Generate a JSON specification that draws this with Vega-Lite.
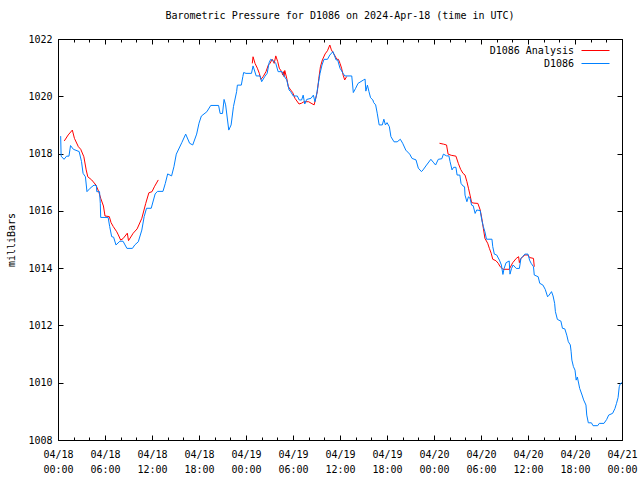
{
  "$schema": "https://vega.github.io/schema/vega-lite/v6.json",
  "autosize": "none",
  "width": 564,
  "height": 401,
  "padding": {"left": 58, "top": 39, "right": 18, "bottom": 40},
  "background": "white",
  "config": {
    "font": "DejaVu Sans Mono",
    "view": {"stroke": "black", "strokeWidth": 1},
    "axis": {"labelFont": "DejaVu Sans Mono", "labelFontSize": 10, "labelColor": "black", "titleFont": "DejaVu Sans Mono", "titleFontSize": 10, "titleFontWeight": "normal", "titleColor": "black", "tickColor": "black", "tickWidth": 1, "domain": false, "grid": false, "labelFlush": false, "labelOverlap": false}
  },
  "title": {"text": "Barometric Pressure for D1086 on 2024-Apr-18 (time in UTC)", "font": "DejaVu Sans Mono", "fontSize": 10, "fontWeight": "normal", "color": "black", "offset": 13},
  "datasets": {
    "ana": [
      {"s":"D1086 Analysis","g":1,"h":0.8,"p":1018.44},{"s":"D1086 Analysis","g":1,"h":1.3,"p":1018.65},{"s":"D1086 Analysis","g":1,"h":1.83,"p":1018.82},{"s":"D1086 Analysis","g":1,"h":2.1,"p":1018.53},{"s":"D1086 Analysis","g":1,"h":2.6,"p":1018.24},{"s":"D1086 Analysis","g":1,"h":2.9,"p":1018.15},{"s":"D1086 Analysis","g":1,"h":3.3,"p":1017.89},{"s":"D1086 Analysis","g":1,"h":3.6,"p":1017.43},{"s":"D1086 Analysis","g":1,"h":3.8,"p":1017.19},{"s":"D1086 Analysis","g":1,"h":4.3,"p":1017.08},{"s":"D1086 Analysis","g":1,"h":4.85,"p":1016.9},{"s":"D1086 Analysis","g":1,"h":5.2,"p":1016.67},{"s":"D1086 Analysis","g":1,"h":5.45,"p":1016.44},{"s":"D1086 Analysis","g":1,"h":5.8,"p":1016.17},{"s":"D1086 Analysis","g":1,"h":6.0,"p":1015.82},{"s":"D1086 Analysis","g":1,"h":6.55,"p":1015.8},{"s":"D1086 Analysis","g":1,"h":6.77,"p":1015.59},{"s":"D1086 Analysis","g":1,"h":7.06,"p":1015.45},{"s":"D1086 Analysis","g":1,"h":7.5,"p":1015.27},{"s":"D1086 Analysis","g":1,"h":7.7,"p":1015.16},{"s":"D1086 Analysis","g":1,"h":8.0,"p":1014.98},{"s":"D1086 Analysis","g":1,"h":8.3,"p":1015.03},{"s":"D1086 Analysis","g":1,"h":8.85,"p":1015.22},{"s":"D1086 Analysis","g":1,"h":9.0,"p":1014.96},{"s":"D1086 Analysis","g":1,"h":9.6,"p":1015.22},{"s":"D1086 Analysis","g":1,"h":10.1,"p":1015.37},{"s":"D1086 Analysis","g":1,"h":10.7,"p":1015.74},{"s":"D1086 Analysis","g":1,"h":11.2,"p":1016.26},{"s":"D1086 Analysis","g":1,"h":11.6,"p":1016.63},{"s":"D1086 Analysis","g":1,"h":12.0,"p":1016.67},{"s":"D1086 Analysis","g":1,"h":12.3,"p":1016.84},{"s":"D1086 Analysis","g":1,"h":12.8,"p":1017.08},
      {"s":"D1086 Analysis","g":2,"h":24.8,"p":1021.15},{"s":"D1086 Analysis","g":2,"h":24.9,"p":1021.38},{"s":"D1086 Analysis","g":2,"h":25.15,"p":1021.15},{"s":"D1086 Analysis","g":2,"h":25.45,"p":1020.98},{"s":"D1086 Analysis","g":2,"h":25.7,"p":1020.8},{"s":"D1086 Analysis","g":2,"h":25.9,"p":1020.59},{"s":"D1086 Analysis","g":2,"h":26.2,"p":1020.69},{"s":"D1086 Analysis","g":2,"h":26.55,"p":1020.86},{"s":"D1086 Analysis","g":2,"h":26.85,"p":1021.09},{"s":"D1086 Analysis","g":2,"h":27.06,"p":1021.15},{"s":"D1086 Analysis","g":2,"h":27.35,"p":1021.29},{"s":"D1086 Analysis","g":2,"h":27.6,"p":1021.15},{"s":"D1086 Analysis","g":2,"h":27.8,"p":1021.41},{"s":"D1086 Analysis","g":2,"h":28.05,"p":1021.21},{"s":"D1086 Analysis","g":2,"h":28.25,"p":1020.98},{"s":"D1086 Analysis","g":2,"h":28.55,"p":1020.86},{"s":"D1086 Analysis","g":2,"h":28.7,"p":1020.74},{"s":"D1086 Analysis","g":2,"h":28.8,"p":1020.86},{"s":"D1086 Analysis","g":2,"h":28.85,"p":1020.69},{"s":"D1086 Analysis","g":2,"h":28.95,"p":1020.9},{"s":"D1086 Analysis","g":2,"h":29.2,"p":1020.63},{"s":"D1086 Analysis","g":2,"h":29.4,"p":1020.34},{"s":"D1086 Analysis","g":2,"h":29.7,"p":1020.22},{"s":"D1086 Analysis","g":2,"h":29.96,"p":1020.13},{"s":"D1086 Analysis","g":2,"h":30.25,"p":1019.93},{"s":"D1086 Analysis","g":2,"h":30.77,"p":1019.73},{"s":"D1086 Analysis","g":2,"h":31.1,"p":1019.76},{"s":"D1086 Analysis","g":2,"h":31.4,"p":1019.81},{"s":"D1086 Analysis","g":2,"h":32.0,"p":1019.81},{"s":"D1086 Analysis","g":2,"h":32.3,"p":1019.76},{"s":"D1086 Analysis","g":2,"h":32.7,"p":1019.7},{"s":"D1086 Analysis","g":2,"h":32.9,"p":1019.93},{"s":"D1086 Analysis","g":2,"h":33.1,"p":1020.16},{"s":"D1086 Analysis","g":2,"h":33.3,"p":1020.63},{"s":"D1086 Analysis","g":2,"h":33.5,"p":1021.03},{"s":"D1086 Analysis","g":2,"h":33.75,"p":1021.27},{"s":"D1086 Analysis","g":2,"h":34.1,"p":1021.48},{"s":"D1086 Analysis","g":2,"h":34.4,"p":1021.59},{"s":"D1086 Analysis","g":2,"h":34.7,"p":1021.79},{"s":"D1086 Analysis","g":2,"h":34.9,"p":1021.62},{"s":"D1086 Analysis","g":2,"h":35.3,"p":1021.44},{"s":"D1086 Analysis","g":2,"h":35.6,"p":1021.29},{"s":"D1086 Analysis","g":2,"h":35.8,"p":1021.29},{"s":"D1086 Analysis","g":2,"h":36.0,"p":1021.15},{"s":"D1086 Analysis","g":2,"h":36.2,"p":1020.98},{"s":"D1086 Analysis","g":2,"h":36.4,"p":1020.74},{"s":"D1086 Analysis","g":2,"h":36.6,"p":1020.57},{"s":"D1086 Analysis","g":2,"h":36.85,"p":1020.69},
      {"s":"D1086 Analysis","g":3,"h":48.7,"p":1018.36},{"s":"D1086 Analysis","g":3,"h":49.2,"p":1018.33},{"s":"D1086 Analysis","g":3,"h":49.6,"p":1018.3},{"s":"D1086 Analysis","g":3,"h":49.8,"p":1017.98},{"s":"D1086 Analysis","g":3,"h":50.2,"p":1017.94},{"s":"D1086 Analysis","g":3,"h":50.8,"p":1017.91},{"s":"D1086 Analysis","g":3,"h":51.1,"p":1017.66},{"s":"D1086 Analysis","g":3,"h":51.4,"p":1017.45},{"s":"D1086 Analysis","g":3,"h":51.7,"p":1017.31},{"s":"D1086 Analysis","g":3,"h":51.96,"p":1017.25},{"s":"D1086 Analysis","g":3,"h":52.2,"p":1017.02},{"s":"D1086 Analysis","g":3,"h":52.4,"p":1016.79},{"s":"D1086 Analysis","g":3,"h":52.6,"p":1016.55},{"s":"D1086 Analysis","g":3,"h":52.8,"p":1016.29},{"s":"D1086 Analysis","g":3,"h":53.1,"p":1016.27},{"s":"D1086 Analysis","g":3,"h":53.6,"p":1016.26},{"s":"D1086 Analysis","g":3,"h":53.9,"p":1016.03},{"s":"D1086 Analysis","g":3,"h":54.1,"p":1015.74},{"s":"D1086 Analysis","g":3,"h":54.3,"p":1015.39},{"s":"D1086 Analysis","g":3,"h":54.5,"p":1015.04},{"s":"D1086 Analysis","g":3,"h":54.85,"p":1014.87},{"s":"D1086 Analysis","g":3,"h":55.07,"p":1014.69},{"s":"D1086 Analysis","g":3,"h":55.3,"p":1014.52},{"s":"D1086 Analysis","g":3,"h":55.5,"p":1014.31},{"s":"D1086 Analysis","g":3,"h":55.9,"p":1014.26},{"s":"D1086 Analysis","g":3,"h":56.2,"p":1014.17},{"s":"D1086 Analysis","g":3,"h":56.4,"p":1014.07},{"s":"D1086 Analysis","g":3,"h":56.8,"p":1013.96},{"s":"D1086 Analysis","g":3,"h":57.6,"p":1013.96},{"s":"D1086 Analysis","g":3,"h":58.05,"p":1014.19},{"s":"D1086 Analysis","g":3,"h":58.5,"p":1014.34},{"s":"D1086 Analysis","g":3,"h":58.8,"p":1014.4},{"s":"D1086 Analysis","g":3,"h":58.9,"p":1014.19},{"s":"D1086 Analysis","g":3,"h":59.1,"p":1014.34},{"s":"D1086 Analysis","g":3,"h":59.6,"p":1014.46},{"s":"D1086 Analysis","g":3,"h":60.0,"p":1014.46},{"s":"D1086 Analysis","g":3,"h":60.2,"p":1014.37},{"s":"D1086 Analysis","g":3,"h":60.7,"p":1014.34},{"s":"D1086 Analysis","g":3,"h":60.8,"p":1014.05}
    ],
    "obs": [
      {"s":"D1086","h":0.34,"p":1018.61},{"s":"D1086","h":0.4,"p":1017.91},{"s":"D1086","h":0.77,"p":1017.8},{"s":"D1086","h":1.1,"p":1017.91},{"s":"D1086","h":1.4,"p":1017.91},{"s":"D1086","h":1.6,"p":1018.28},{"s":"D1086","h":1.96,"p":1018.15},{"s":"D1086","h":2.7,"p":1018.07},{"s":"D1086","h":3.0,"p":1017.72},{"s":"D1086","h":3.2,"p":1017.31},{"s":"D1086","h":3.5,"p":1017.19},{"s":"D1086","h":3.7,"p":1016.67},{"s":"D1086","h":4.1,"p":1016.79},{"s":"D1086","h":4.6,"p":1016.9},{"s":"D1086","h":4.9,"p":1016.88},{"s":"D1086","h":4.95,"p":1016.67},{"s":"D1086","h":5.3,"p":1016.67},{"s":"D1086","h":5.4,"p":1016.26},{"s":"D1086","h":5.45,"p":1015.77},{"s":"D1086","h":6.4,"p":1015.77},{"s":"D1086","h":6.6,"p":1015.45},{"s":"D1086","h":6.85,"p":1015.1},{"s":"D1086","h":7.1,"p":1015.08},{"s":"D1086","h":7.4,"p":1014.81},{"s":"D1086","h":7.9,"p":1014.94},{"s":"D1086","h":8.3,"p":1014.94},{"s":"D1086","h":8.8,"p":1014.69},{"s":"D1086","h":9.5,"p":1014.69},{"s":"D1086","h":9.8,"p":1014.81},{"s":"D1086","h":10.25,"p":1014.92},{"s":"D1086","h":10.7,"p":1015.33},{"s":"D1086","h":11.0,"p":1015.8},{"s":"D1086","h":11.3,"p":1016.09},{"s":"D1086","h":11.9,"p":1016.09},{"s":"D1086","h":12.4,"p":1016.59},{"s":"D1086","h":12.7,"p":1016.68},{"s":"D1086","h":13.4,"p":1016.68},{"s":"D1086","h":13.7,"p":1016.96},{"s":"D1086","h":14.0,"p":1017.29},{"s":"D1086","h":14.5,"p":1017.22},{"s":"D1086","h":14.8,"p":1017.54},{"s":"D1086","h":15.1,"p":1017.98},{"s":"D1086","h":15.8,"p":1018.38},{"s":"D1086","h":16.3,"p":1018.68},{"s":"D1086","h":16.8,"p":1018.36},{"s":"D1086","h":17.2,"p":1018.3},{"s":"D1086","h":17.7,"p":1018.68},{"s":"D1086","h":18.0,"p":1019.06},{"s":"D1086","h":18.3,"p":1019.31},{"s":"D1086","h":19.0,"p":1019.46},{"s":"D1086","h":19.5,"p":1019.68},{"s":"D1086","h":20.5,"p":1019.68},{"s":"D1086","h":20.7,"p":1019.4},{"s":"D1086","h":21.0,"p":1019.4},{"s":"D1086","h":21.2,"p":1019.89},{"s":"D1086","h":21.4,"p":1019.7},{"s":"D1086","h":21.8,"p":1018.82},{"s":"D1086","h":22.1,"p":1019.0},{"s":"D1086","h":22.4,"p":1019.64},{"s":"D1086","h":22.8,"p":1020.16},{"s":"D1086","h":22.9,"p":1020.39},{"s":"D1086","h":23.4,"p":1020.39},{"s":"D1086","h":23.6,"p":1020.69},{"s":"D1086","h":23.7,"p":1020.83},{"s":"D1086","h":24.0,"p":1020.8},{"s":"D1086","h":24.7,"p":1020.8},{"s":"D1086","h":24.9,"p":1021.06},{"s":"D1086","h":25.3,"p":1020.71},{"s":"D1086","h":25.8,"p":1020.71},{"s":"D1086","h":26.0,"p":1020.51},{"s":"D1086","h":26.4,"p":1020.69},{"s":"D1086","h":26.7,"p":1020.8},{"s":"D1086","h":26.95,"p":1021.17},{"s":"D1086","h":27.15,"p":1021.29},{"s":"D1086","h":27.5,"p":1021.24},{"s":"D1086","h":27.8,"p":1021.15},{"s":"D1086","h":28.1,"p":1020.86},{"s":"D1086","h":28.6,"p":1020.86},{"s":"D1086","h":28.85,"p":1020.71},{"s":"D1086","h":29.2,"p":1020.57},{"s":"D1086","h":29.5,"p":1020.22},{"s":"D1086","h":29.7,"p":1020.16},{"s":"D1086","h":30.04,"p":1020.01},{"s":"D1086","h":30.55,"p":1020.01},{"s":"D1086","h":30.8,"p":1019.87},{"s":"D1086","h":31.1,"p":1019.87},{"s":"D1086","h":31.3,"p":1020.04},{"s":"D1086","h":31.5,"p":1019.73},{"s":"D1086","h":31.75,"p":1019.89},{"s":"D1086","h":32.3,"p":1019.93},{"s":"D1086","h":32.6,"p":1020.04},{"s":"D1086","h":32.8,"p":1019.81},{"s":"D1086","h":33.0,"p":1020.04},{"s":"D1086","h":33.2,"p":1020.39},{"s":"D1086","h":33.45,"p":1020.8},{"s":"D1086","h":33.7,"p":1021.09},{"s":"D1086","h":33.96,"p":1021.29},{"s":"D1086","h":34.4,"p":1021.29},{"s":"D1086","h":34.7,"p":1021.44},{"s":"D1086","h":35.1,"p":1021.56},{"s":"D1086","h":35.5,"p":1021.27},{"s":"D1086","h":35.7,"p":1021.27},{"s":"D1086","h":36.0,"p":1020.98},{"s":"D1086","h":36.4,"p":1020.8},{"s":"D1086","h":36.6,"p":1020.71},{"s":"D1086","h":37.5,"p":1020.71},{"s":"D1086","h":37.7,"p":1020.13},{"s":"D1086","h":38.0,"p":1020.28},{"s":"D1086","h":38.3,"p":1020.45},{"s":"D1086","h":39.0,"p":1020.57},{"s":"D1086","h":39.2,"p":1020.6},{"s":"D1086","h":39.3,"p":1020.18},{"s":"D1086","h":39.5,"p":1020.39},{"s":"D1086","h":39.7,"p":1020.16},{"s":"D1086","h":39.9,"p":1019.95},{"s":"D1086","h":40.2,"p":1019.87},{"s":"D1086","h":40.3,"p":1019.78},{"s":"D1086","h":40.55,"p":1019.7},{"s":"D1086","h":40.75,"p":1019.41},{"s":"D1086","h":41.0,"p":1019.0},{"s":"D1086","h":41.4,"p":1019.0},{"s":"D1086","h":41.6,"p":1019.2},{"s":"D1086","h":41.8,"p":1019.0},{"s":"D1086","h":42.0,"p":1019.08},{"s":"D1086","h":42.3,"p":1018.94},{"s":"D1086","h":42.5,"p":1018.59},{"s":"D1086","h":42.9,"p":1018.41},{"s":"D1086","h":43.3,"p":1018.41},{"s":"D1086","h":43.7,"p":1018.5},{"s":"D1086","h":44.0,"p":1018.36},{"s":"D1086","h":44.4,"p":1018.12},{"s":"D1086","h":44.9,"p":1017.98},{"s":"D1086","h":45.2,"p":1017.83},{"s":"D1086","h":45.7,"p":1017.78},{"s":"D1086","h":46.0,"p":1017.49},{"s":"D1086","h":46.4,"p":1017.37},{"s":"D1086","h":46.6,"p":1017.43},{"s":"D1086","h":47.05,"p":1017.6},{"s":"D1086","h":47.6,"p":1017.8},{"s":"D1086","h":47.9,"p":1017.7},{"s":"D1086","h":48.2,"p":1017.6},{"s":"D1086","h":48.55,"p":1017.8},{"s":"D1086","h":49.0,"p":1017.82},{"s":"D1086","h":49.2,"p":1017.98},{"s":"D1086","h":49.6,"p":1017.92},{"s":"D1086","h":49.9,"p":1017.92},{"s":"D1086","h":50.05,"p":1017.72},{"s":"D1086","h":50.3,"p":1017.43},{"s":"D1086","h":50.5,"p":1017.52},{"s":"D1086","h":50.8,"p":1017.52},{"s":"D1086","h":50.95,"p":1017.25},{"s":"D1086","h":51.3,"p":1017.25},{"s":"D1086","h":51.45,"p":1016.96},{"s":"D1086","h":51.7,"p":1016.87},{"s":"D1086","h":51.9,"p":1016.84},{"s":"D1086","h":51.96,"p":1016.55},{"s":"D1086","h":52.2,"p":1016.32},{"s":"D1086","h":52.4,"p":1016.49},{"s":"D1086","h":52.6,"p":1016.44},{"s":"D1086","h":52.8,"p":1016.2},{"s":"D1086","h":53.0,"p":1016.18},{"s":"D1086","h":53.25,"p":1015.91},{"s":"D1086","h":53.45,"p":1016.03},{"s":"D1086","h":53.9,"p":1016.01},{"s":"D1086","h":54.1,"p":1015.68},{"s":"D1086","h":54.3,"p":1015.45},{"s":"D1086","h":54.5,"p":1015.27},{"s":"D1086","h":54.7,"p":1015.01},{"s":"D1086","h":55.4,"p":1015.01},{"s":"D1086","h":55.5,"p":1014.75},{"s":"D1086","h":55.7,"p":1014.49},{"s":"D1086","h":56.0,"p":1014.46},{"s":"D1086","h":56.35,"p":1014.28},{"s":"D1086","h":56.6,"p":1014.11},{"s":"D1086","h":56.8,"p":1013.78},{"s":"D1086","h":56.95,"p":1013.99},{"s":"D1086","h":57.2,"p":1014.19},{"s":"D1086","h":57.6,"p":1014.25},{"s":"D1086","h":57.7,"p":1013.79},{"s":"D1086","h":57.9,"p":1013.99},{"s":"D1086","h":58.1,"p":1014.11},{"s":"D1086","h":58.5,"p":1013.99},{"s":"D1086","h":58.9,"p":1013.99},{"s":"D1086","h":59.1,"p":1014.34},{"s":"D1086","h":59.3,"p":1014.4},{"s":"D1086","h":59.6,"p":1014.49},{"s":"D1086","h":60.0,"p":1014.49},{"s":"D1086","h":60.2,"p":1014.28},{"s":"D1086","h":60.4,"p":1014.17},{"s":"D1086","h":60.7,"p":1014.05},{"s":"D1086","h":60.8,"p":1013.76},{"s":"D1086","h":61.3,"p":1013.7},{"s":"D1086","h":61.5,"p":1013.47},{"s":"D1086","h":61.9,"p":1013.41},{"s":"D1086","h":62.2,"p":1013.26},{"s":"D1086","h":62.5,"p":1013.0},{"s":"D1086","h":62.7,"p":1013.06},{"s":"D1086","h":63.0,"p":1013.18},{"s":"D1086","h":63.2,"p":1013.03},{"s":"D1086","h":63.4,"p":1012.77},{"s":"D1086","h":63.5,"p":1012.48},{"s":"D1086","h":63.75,"p":1012.21},{"s":"D1086","h":64.2,"p":1012.15},{"s":"D1086","h":64.4,"p":1011.9},{"s":"D1086","h":64.7,"p":1011.88},{"s":"D1086","h":64.95,"p":1011.66},{"s":"D1086","h":65.15,"p":1011.43},{"s":"D1086","h":65.4,"p":1011.32},{"s":"D1086","h":65.5,"p":1011.1},{"s":"D1086","h":65.6,"p":1010.79},{"s":"D1086","h":65.8,"p":1010.56},{"s":"D1086","h":66.0,"p":1010.44},{"s":"D1086","h":66.15,"p":1010.09},{"s":"D1086","h":66.3,"p":1010.2},{"s":"D1086","h":66.6,"p":1009.8},{"s":"D1086","h":66.9,"p":1009.57},{"s":"D1086","h":67.1,"p":1009.4},{"s":"D1086","h":67.4,"p":1009.22},{"s":"D1086","h":67.5,"p":1008.87},{"s":"D1086","h":67.7,"p":1008.6},{"s":"D1086","h":68.1,"p":1008.6},{"s":"D1086","h":68.3,"p":1008.5},{"s":"D1086","h":68.9,"p":1008.5},{"s":"D1086","h":69.1,"p":1008.58},{"s":"D1086","h":69.7,"p":1008.58},{"s":"D1086","h":70.05,"p":1008.72},{"s":"D1086","h":70.3,"p":1008.87},{"s":"D1086","h":70.8,"p":1008.93},{"s":"D1086","h":71.1,"p":1009.1},{"s":"D1086","h":71.3,"p":1009.28},{"s":"D1086","h":71.5,"p":1009.48},{"s":"D1086","h":71.65,"p":1009.86},{"s":"D1086","h":71.8,"p":1009.97},{"s":"D1086","h":72.0,"p":1010.0}
    ]
  },
  "resolve": {"axis": {"x": "independent", "y": "independent"}},
  "layer": [
    {
      "data": {"name": "ana"},
      "mark": {"type": "line", "strokeWidth": 1, "interpolate": "linear"},
      "encoding": {
        "x": {"field": "h", "type": "quantitative", "scale": {"domain": [0, 72], "nice": false, "zero": false},
              "axis": {"orient": "bottom", "title": null, "values": [0, 6, 12, 18, 24, 30, 36, 42, 48, 54, 60, 66, 72], "tickSize": -5, "labelPadding": 14, "labelAngle": 0, "labelAlign": "center", "labelBaseline": "top", "labelLineHeight": 15,
                       "labelExpr": "['04/' + (18 + floor(datum.value / 24)), (datum.value % 24 < 10 ? '0' : '') + (datum.value % 24) + ':00']"}},
        "y": {"field": "p", "type": "quantitative", "scale": {"domain": [1008, 1022], "nice": false, "zero": false},
              "axis": {"orient": "left", "title": "milliBars", "titlePadding": 11, "values": [1008, 1010, 1012, 1014, 1016, 1018, 1020, 1022], "tickSize": -5, "labelPadding": 11, "format": "d"}},
        "color": {"field": "s", "type": "nominal", "scale": {"domain": ["D1086 Analysis", "D1086"], "range": ["#ff0000", "#0080ff"]},
                  "legend": {"title": null, "orient": "none", "legendX": 530, "legendY": 4, "direction": "vertical", "symbolType": "M-2,0H2", "symbolSize": 196, "symbolStrokeWidth": 1, "labelFont": "DejaVu Sans Mono", "labelFontSize": 10, "labelColor": "black", "labelAlign": "right", "labelOffset": -29, "rowPadding": 0, "padding": 0}},
        "detail": {"field": "g", "type": "nominal"}
      }
    },
    {
      "data": {"name": "obs"},
      "mark": {"type": "line", "strokeWidth": 1, "interpolate": "linear"},
      "encoding": {
        "x": {"field": "h", "type": "quantitative", "axis": {"orient": "top", "title": null, "labels": false, "values": [0, 6, 12, 18, 24, 30, 36, 42, 48, 54, 60, 66, 72], "tickSize": -5}},
        "y": {"field": "p", "type": "quantitative", "axis": {"orient": "right", "title": null, "labels": false, "values": [1008, 1010, 1012, 1014, 1016, 1018, 1020, 1022], "tickSize": -5}},
        "color": {"field": "s", "type": "nominal"}
      }
    },
    {
      "data": {"name": "obs"},
      "mark": {"type": "point", "opacity": 0, "size": 0},
      "encoding": {
        "x": {"field": "h", "type": "quantitative", "axis": {"orient": "bottom", "title": null, "labels": false, "values": [0, 2, 4, 6, 8, 10, 12, 14, 16, 18, 20, 22, 24, 26, 28, 30, 32, 34, 36, 38, 40, 42, 44, 46, 48, 50, 52, 54, 56, 58, 60, 62, 64, 66, 68, 70, 72], "tickSize": -3}}
      }
    },
    {
      "data": {"name": "obs"},
      "mark": {"type": "point", "opacity": 0, "size": 0},
      "encoding": {
        "x": {"field": "h", "type": "quantitative", "axis": {"orient": "top", "title": null, "labels": false, "values": [0, 2, 4, 6, 8, 10, 12, 14, 16, 18, 20, 22, 24, 26, 28, 30, 32, 34, 36, 38, 40, 42, 44, 46, 48, 50, 52, 54, 56, 58, 60, 62, 64, 66, 68, 70, 72], "tickSize": -3}}
      }
    }
  ]
}
